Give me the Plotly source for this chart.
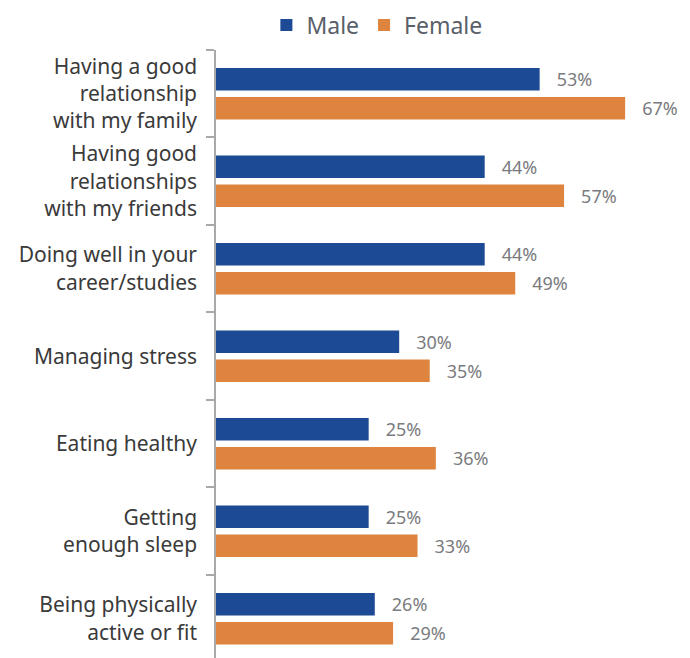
import plotly.graph_objects as go

categories = [
    "Having a good<br>relationship<br>with my family",
    "Having good<br>relationships<br>with my friends",
    "Doing well in your<br>career/studies",
    "Managing stress",
    "Eating healthy",
    "Getting<br>enough sleep",
    "Being physically<br>active or fit",
]
male = [53, 44, 44, 30, 25, 25, 26]
female = [67, 57, 49, 35, 36, 33, 29]

MALE_COLOR = "#1c4a94"
FEMALE_COLOR = "#de843e"
FONT = "Noto Sans"
NB = "\u00a0"

fig = go.Figure()
for name, vals, color in [("Male", male, MALE_COLOR), ("Female", female, FEMALE_COLOR)]:
    fig.add_trace(go.Bar(
        y=categories, x=vals, orientation="h", name=name,
        marker=dict(color=color, line=dict(width=0)),
        texttemplate=NB * 3 + "%{x}%", textposition="outside",
        textfont=dict(family=FONT, size=18, color="#7a7b7e"),
        cliponaxis=False, constraintext="none",
    ))

fig.update_layout(
    width=690, height=658,
    margin=dict(l=216, r=16, t=50, b=0, autoexpand=False),
    paper_bgcolor="white", plot_bgcolor="white",
    barmode="group", bargap=0.337, bargroupgap=0.224,
    font=dict(family=FONT, color="#3a3a3a"),
    showlegend=True,
    legend=dict(
        orientation="h", x=0.11, xanchor="left", y=1.041, yanchor="middle",
        font=dict(family=FONT, size=23, color="#5a6069"),
        itemwidth=30, tracegroupgap=0, itemclick=False,
    ),
    xaxis=dict(range=[0, 75], visible=False, fixedrange=True),
    yaxis=dict(
        type="category", range=[6.45, -0.5],
        showline=True, linecolor="#a9a9a9", linewidth=1.5,
        ticks="outside", tickson="boundaries", ticklen=8, tickcolor="#a9a9a9",
        tickwidth=1.5, showgrid=False, zeroline=False,
        tickfont=dict(family=FONT, size=21, color="#3a3a3a"),
        ticklabelstandoff=13,
    ),
)

fig.write_html("out.html")
